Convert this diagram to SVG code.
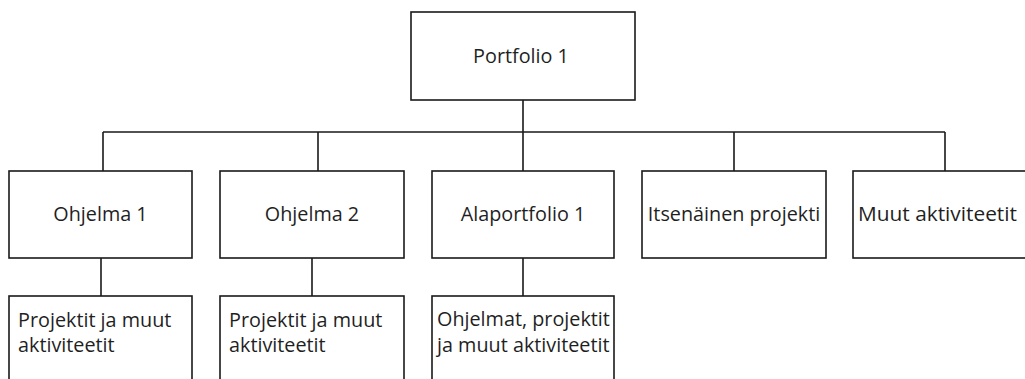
<svg xmlns="http://www.w3.org/2000/svg" width="1025" height="379" viewBox="0 0 1025 379">
<style>
.box{fill:#fff;stroke:#1a1a1a;stroke-width:1.6}
.ln{fill:none;stroke:#1a1a1a;stroke-width:1.6}
text{font-family:"Open Sans","Liberation Sans",sans-serif;font-size:19.8px;fill:#1f1f1f}
.c{text-anchor:middle}
</style>
<rect width="1025" height="379" fill="#fff"/>
<g id="connectors">
<path class="ln" d="M523 100V132M103 132H945M103 132V171M318 132V171M523 132V171M734 132V171M945 132V171"/>
<path class="ln" d="M101 258V296M312 258V296M523 258V296"/>
</g>
<g id="portfolio1"><rect class="box" x="411" y="12" width="224" height="88"/><text class="c" x="521" y="63">Portfolio 1</text></g>
<g id="ohjelma1"><rect class="box" x="9" y="171" width="183" height="87"/><text class="c" x="100.5" y="221">Ohjelma 1</text></g>
<g id="ohjelma2"><rect class="box" x="220" y="171" width="184" height="87"/><text class="c" x="312" y="221">Ohjelma 2</text></g>
<g id="alaportfolio1"><rect class="box" x="432" y="171" width="182" height="87"/><text class="c" x="523" y="221">Alaportfolio 1</text></g>
<g id="itsenainen"><rect class="box" x="642" y="171" width="184" height="87"/><text class="c" x="734" y="221">Itsenäinen projekti</text></g>
<g id="muut"><rect class="box" x="853" y="171" width="184" height="87"/><text x="858" y="221" textLength="159" lengthAdjust="spacingAndGlyphs">Muut aktiviteetit</text></g>
<g id="projektit1"><rect class="box" x="9" y="296" width="183" height="100"/><text x="18" y="327">Projektit ja muut</text><text x="18" y="352">aktiviteetit</text></g>
<g id="projektit2"><rect class="box" x="220" y="296" width="184" height="100"/><text x="229" y="327">Projektit ja muut</text><text x="229" y="352">aktiviteetit</text></g>
<g id="ohjelmat"><rect class="box" x="432" y="296" width="182" height="100"/><text x="437" y="326">Ohjelmat, projektit</text><text x="437" y="352">ja muut aktiviteetit</text></g>
</svg>
